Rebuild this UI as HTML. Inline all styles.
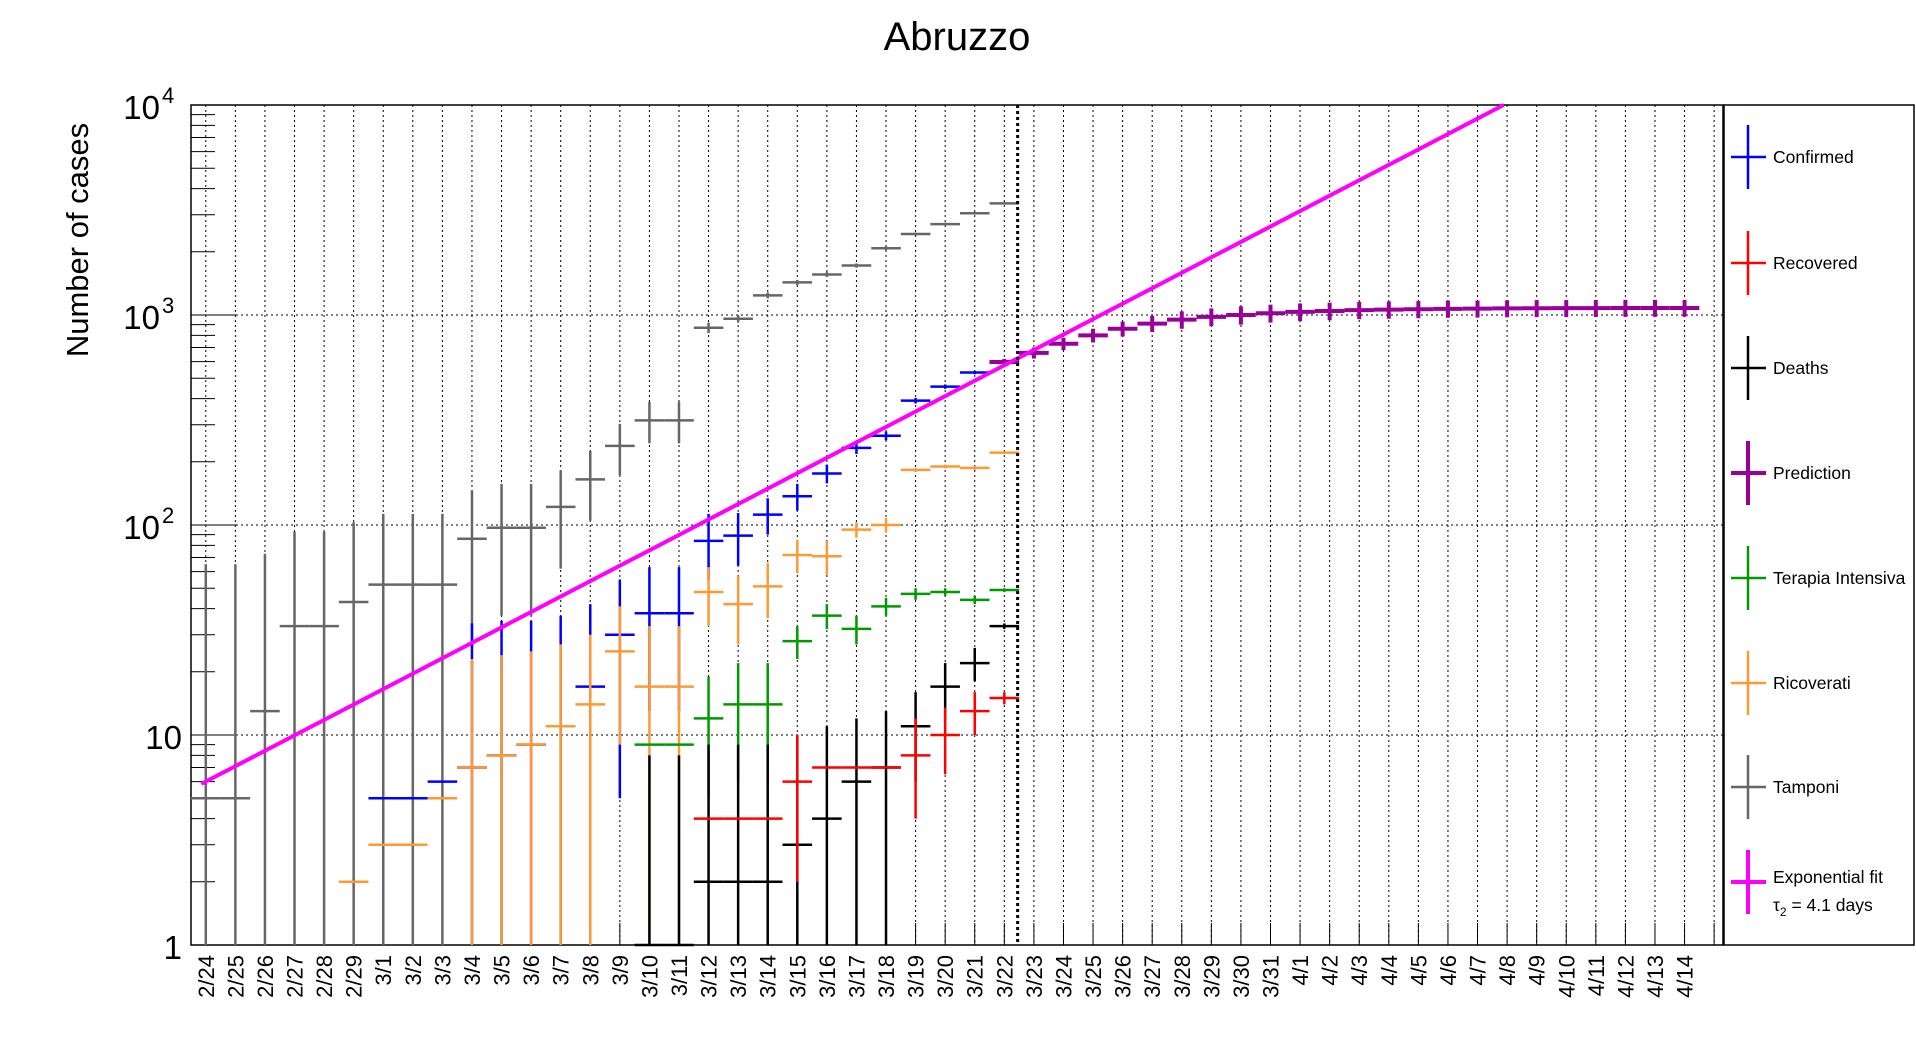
<!DOCTYPE html>
<html><head><meta charset="utf-8"><style>
html,body{margin:0;padding:0;background:#fff;}
svg{display:block;font-family:"Liberation Sans",sans-serif;}
</style></head><body>
<svg id="chart" width="1916" height="1052" viewBox="0 0 1916 1052" xmlns="http://www.w3.org/2000/svg">
<rect x="0" y="0" width="1916" height="1052" fill="#fff"/>
<text x="957" y="50" font-size="40" text-anchor="middle">Abruzzo</text>
<text transform="translate(88,240) rotate(-90)" font-size="31" text-anchor="middle">Number of cases</text>
<g id="grid"></g>
<g id="axes"></g>
<g id="series"></g>
<g id="legend"></g>
</svg>
<script>
const dayLabels = ["2/24","2/25","2/26","2/27","2/28","2/29","3/1","3/2","3/3","3/4","3/5","3/6","3/7","3/8","3/9","3/10","3/11","3/12","3/13","3/14","3/15","3/16","3/17","3/18","3/19","3/20","3/21","3/22","3/23","3/24","3/25","3/26","3/27","3/28","3/29","3/30","3/31","4/1","4/2","4/3","4/4","4/5","4/6","4/7","4/8","4/9","4/10","4/11","4/12","4/13","4/14"];
const yMajor = [1,10,100,1000,10000];
const tamponiDays = [0,1,2,3,4,5,6,7,8,9,10,11,12,13,14,15,16,17,18,19,20,21,22,23,24,25,26,27];
const tamponiVals = [5,5,13,33,33,43,52,52,52,86,97,97,122,165,238,315,315,870,960,1240,1430,1560,1720,2080,2430,2710,3050,3400];
const tamponiErr = [60,60,60,60,60,60,61,61,61,60,60,60,60,60,65,70,70,50,40,40,40,40,40,40,40,40,40,40];
const confDays = [6,7,8,9,10,11,12,13,14,15,16,17,18,19,20,21,22,23,24,25,26,27];
const confVals = [5,5,6,7,8,9,11,17,30,38,38,84,89,112,137,176,233,266,391,456,532,597];
const confErr = [0,0,0,27,27,26,26,25,25,25,25,29,25,22,20,18,15,13,12,11,10,9];
const ricDays = [5,6,7,8,9,10,11,12,13,14,15,16,17,18,19,20,21,22,23,24,25,26,27];
const ricVals = [2,3,3,5,7,8,9,11,14,25,17,17,48,42,51,72,71,95,100,183,190,187,221];
const ricErr = [0,0,0,0,16,16,16,16,16,16,16,16,15,15,15,13,13,8,8,4,4,4,1];
const terDays = [15,16,17,18,19,20,21,22,23,24,25,26,27];
const terVals = [9,9,12,14,14,28,37,32,41,47,48,44,49];
const terErr = [0,0,7,8,8,5,5,5,4,3,2,2,1];
const recDays = [17,18,19,20,21,22,23,24,25,26,27];
const recVals = [4,4,4,6,7,7,7,8,10,13,15];
const recErr = [0,0,0,4,0,0,0,4,3.5,3,1];
const deathDays = [15,16,17,18,19,20,21,22,23,24,25,26,27];
const deathVals = [1,1,2,2,2,3,4,6,7,11,17,22,33];
const deathErr = [7,7,7,7,7,7,7,6,6,5,5,4,1];
const predDays = [27,28,29,30,31,32,33,34,35,36,37,38,39,40,41,42,43,44,45,46,47,48,49,50];
const predVals = [597,660,730,800,860,910,950,980,1000,1020,1035,1045,1055,1060,1065,1070,1072,1075,1077,1078,1079,1080,1080,1080];
const predErr = [20,40,50,60,70,80,90,95,100,100,100,100,100,100,100,100,100,100,100,100,100,100,100,100];
const fitA = [6];
const fitTau = [4.1];
const cutDay = [27.45];

const NS="http://www.w3.org/2000/svg";
const L=191,R=1723,T=105,B=945, D0=-0.5, D1=51.3;
function xs(d){return L+(d-D0)/(D1-D0)*(R-L);}
function ys(v){return B-(Math.log10(v))*(B-T)/4;}
function mk(tag,attrs,parent){const e=document.createElementNS(NS,tag);for(const k in attrs)e.setAttribute(k,attrs[k]);parent.appendChild(e);return e;}
const grid=document.getElementById('grid'),axes=document.getElementById('axes'),ser=document.getElementById('series'),leg=document.getElementById('legend');

for(let i=0;i<=51;i++){
  const x=xs(i);
  const g=mk('line',{x1:x,x2:x,y1:T,y2:B,stroke:'#000','stroke-width':1,'stroke-dasharray':'2,3'},grid);
  
  
  const t=mk('line',{x1:x,x2:x,y1:B,y2:B-22,stroke:'#000','stroke-width':1},axes);
  
  
  if(i<dayLabels.length){
    const lb=mk('text',{transform:`translate(${x+8},955) rotate(-90)`,'font-size':22,'text-anchor':'end'},axes);
    lb.textContent=dayLabels[i];
    
    
  }
}
[10,100,1000].forEach(v=>{
  const g=mk('line',{x1:L,x2:R,y1:ys(v),y2:ys(v),stroke:'#000','stroke-width':1,'stroke-dasharray':'2,3'},grid);
  
  
});
for(let e=0;e<4;e++){
  for(let m=1;m<10;m++){
    const v=m*Math.pow(10,e);
    const len=m===1?46:24;
    const t=mk('line',{x1:L,x2:L+len,y1:ys(v),y2:ys(v),stroke:'#000','stroke-width':1},axes);
    
    
  }
}
yMajor.forEach((v,i)=>{
  const y=ys(v);
  const t=mk('text',{x:i<2?182:158,y:y+14,'font-size':33,'text-anchor':'end'},axes);
  
  
  if(i===0)t.textContent='1';
  else if(i===1)t.textContent='10';
  else{
    t.setAttribute('x',160);
    t.textContent='10';
    const s=mk('text',{x:162,y:y-2,'font-size':22,'text-anchor':'start'},axes);
    s.textContent=String(i);
    
    
  }
});
const fr=mk('rect',{x:L,y:T,width:R-L,height:B-T,fill:'none',stroke:'#000','stroke-width':1.5},axes);



function drawSeries(name,days,vals,errs,color,w){
  const g=mk('g',{},ser);
  
  
  days.forEach((d,i)=>{
    const v=vals[i],e=errs[i];
    const y=ys(v);
    const h=mk('line',{x1:xs(d-0.5),x2:xs(d+0.5),y1:y,y2:y,stroke:color,'stroke-width':w},g);
    
    
    if(e>0){
      const lo=Math.max(1,v-e),hi=Math.min(10000,v+e);
      const vl=mk('line',{x1:xs(d),x2:xs(d),y1:ys(lo),y2:ys(hi),stroke:color,'stroke-width':w},g);
      
      
    }
  });
}
drawSeries('tamponi',tamponiDays,tamponiVals,tamponiErr,'#666666',2.5);
drawSeries('confirmed',confDays,confVals,confErr,'#0000ff',2.5);
drawSeries('ricoverati',ricDays,ricVals,ricErr,'#ff9933',2.5);
drawSeries('terapia-intensiva',terDays,terVals,terErr,'#009900',2.5);
drawSeries('deaths',deathDays,deathVals,deathErr,'#000000',2.5);
drawSeries('recovered',recDays,recVals,recErr,'#ff0000',2.5);
drawSeries('prediction',predDays,predVals,predErr,'#990099',4);

const dEnd=fitTau[0]*Math.log2(10000/fitA[0]);
const fl=mk('line',{x1:xs(-0.15),y1:ys(fitA[0]*Math.pow(2,-0.15/fitTau[0])),x2:xs(dEnd),y2:ys(10000),stroke:'#ff00ff','stroke-width':4},ser);


const cl=mk('line',{x1:xs(cutDay[0]),x2:xs(cutDay[0]),y1:T,y2:B,stroke:'#000','stroke-width':3,'stroke-dasharray':'3,3'},ser);



const lb=mk('rect',{x:1724,y:105,width:190,height:840,fill:'#fff',stroke:'#000','stroke-width':1.5},leg);


const legNames=["Confirmed","Recovered","Deaths","Prediction","Terapia Intensiva","Ricoverati","Tamponi","Exponential fit"];
const legColors=["#0000ff","#ff0000","#000000","#990099","#009900","#ff9933","#666666","#ff00ff"];
const legY=[157,263,368,473,578,683,787,882];
legNames.forEach((n,i)=>{
  const g=mk('g',{},leg);
  
  
  const y=legY[i],w=(i===3||i===7)?4:2.5;
  mk('line',{x1:1731,x2:1766,y1:y,y2:y,stroke:legColors[i],'stroke-width':w},g);
  mk('line',{x1:1748,x2:1748,y1:y-32,y2:y+32,stroke:legColors[i],'stroke-width':w},g);
  const t=mk('text',{x:1773,y:i===7?y+1:y+6,'font-size':17.5},g);
  t.textContent=n;
});
const tg=mk('text',{x:1773,y:911,'font-size':17.5},leg);


tg.innerHTML='τ<tspan font-size="12" dy="5">2</tspan><tspan dy="-5"> = 4.1 days</tspan>';
const cover=mk('rect',{x:1915,y:0,width:10,height:1052,fill:'#fff'},leg);


</script>
</body></html>
